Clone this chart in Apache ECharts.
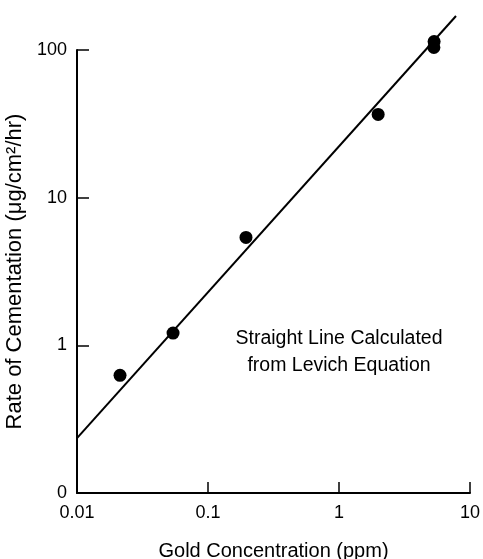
<!DOCTYPE html>
<html>
<head>
    <meta charset="UTF-8">
    <title>Rate of Cementation</title>
    <script src="https://cdn.jsdelivr.net/npm/echarts@6/dist/echarts.min.js"></script>
    <style>
        html, body { margin: 0; padding: 0; background: #fff; }
        #chart { width: 483px; height: 559px; }
    </style>
</head>
<body>
<div id="chart"></div>
<script>
    // measured points (ppm, ug/cm2/hr)
    var goldConc = [0.0213, 0.0541, 0.195, 1.99, 5.3, 5.32];
    var cementRate = [0.626, 1.21, 5.38, 36.6, 104, 114];
    // Levich line end points
    var levichX = [0.01, 7.82];
    var levichY = [0.235, 170];
    var xTickLabels = ['0.01', '0.1', '1', '10'];
    var yTickLabels = ['0', '1', '10', '100'];

    var font = 'Liberation Sans, Arial, sans-serif';
    var ink = '#000';

    var points = goldConc.map(function (x, i) { return [x, cementRate[i]]; });
    var line = levichX.map(function (x, i) { return [x, levichY[i]]; });

    var myChart = echarts.init(document.getElementById('chart'));
    var option = {
        animation: false,
        backgroundColor: '#fff',
        grid: {
            left: 77, right: 13, top: 50, bottom: 66,
            outerBoundsMode: 'none'
        },
        xAxis: {
            type: 'log',
            logBase: 10,
            min: 0.01,
            max: 10,
            name: 'Gold Concentration (ppm)',
            nameLocation: 'middle',
            nameGap: 48,
            nameTextStyle: { color: ink, fontSize: 20, fontFamily: font },
            axisLine: { lineStyle: { color: ink, width: 2 } },
            axisTick: { inside: true, length: 11, lineStyle: { color: ink, width: 1.5 } },
            minorTick: { show: false },
            splitLine: { show: false },
            axisLabel: {
                margin: 11,
                color: ink,
                fontSize: 18,
                fontFamily: font,
                formatter: function (v, i) { return xTickLabels[i]; }
            }
        },
        yAxis: {
            type: 'log',
            logBase: 10,
            min: 0.1,
            max: 100,
            name: 'Rate of Cementation (\u03bcg/cm\u00b2/hr)',
            nameLocation: 'middle',
            nameGap: 42,
            nameTextStyle: { color: ink, fontSize: 22, fontFamily: font },
            axisLine: { lineStyle: { color: ink, width: 2 } },
            axisTick: { inside: true, length: 12, lineStyle: { color: ink, width: 1.5 } },
            splitLine: { show: false },
            axisLabel: {
                margin: 10,
                color: ink,
                fontSize: 18,
                fontFamily: font,
                formatter: function (v, i) { return yTickLabels[i]; }
            }
        },
        graphic: [{
            type: 'text',
            x: 339,
            y: 325,
            style: {
                text: 'Straight Line Calculated\nfrom Levich Equation',
                align: 'center',
                verticalAlign: 'top',
                fill: ink,
                fontSize: 19.5,
                lineHeight: 27,
                fontFamily: font
            }
        }],
        series: [{
            type: 'line',
            data: line,
            clip: false,
            showSymbol: false,
            lineStyle: { color: ink, width: 2 }
        }, {
            type: 'scatter',
            data: points,
            clip: false,
            symbolSize: 13,
            itemStyle: { color: ink, opacity: 1 }
        }]
    };
    myChart.setOption(option);
</script>
</body>
</html>
